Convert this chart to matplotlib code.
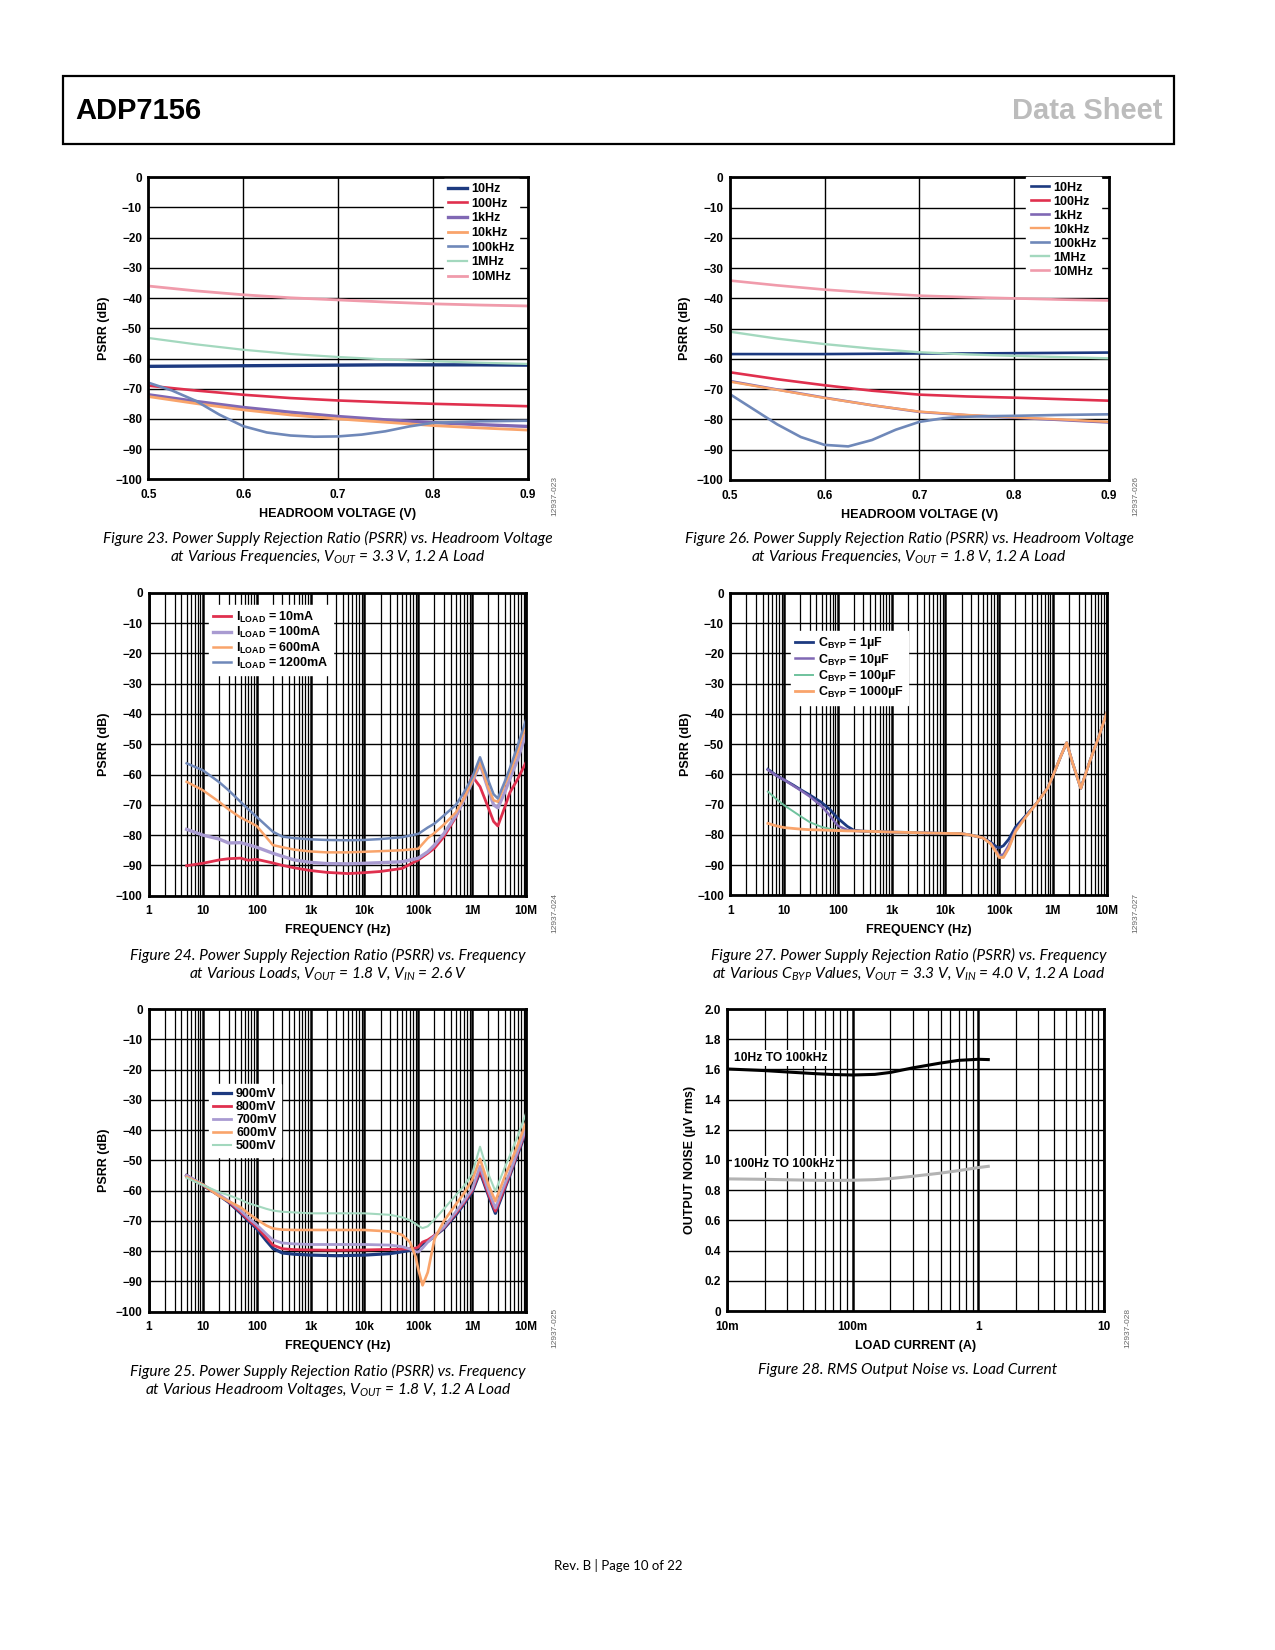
import matplotlib
matplotlib.use("Agg")
from matplotlib import pyplot as plt
from matplotlib.patches import Rectangle
from matplotlib.ticker import LogLocator, NullFormatter

W, H = 1275, 1650

plt.rcParams['font.family'] = ['Liberation Sans', 'DejaVu Sans']
plt.rcParams['font.weight'] = 'bold'
plt.rcParams['axes.labelweight'] = 'bold'
plt.rcParams['mathtext.fontset'] = 'custom'
plt.rcParams['mathtext.it'] = 'Lato:style=italic:weight=normal'
plt.rcParams['mathtext.rm'] = 'Lato:style=italic:weight=normal'
plt.rcParams['mathtext.bf'] = 'Liberation Sans:weight=bold'
plt.rcParams['axes.unicode_minus'] = True

NAVY = '#1d3a80'
RED = '#e0304e'
PURPLE = '#8068b4'
LAVENDER = '#a99bd1'
ORANGE = '#f9a46b'
STEEL = '#6f88b9'
MINT = '#a3d8be'
TEAL = '#6fc29d'
PINK = '#f09bab'

# ---- Figure 23 / 26 : PSRR vs headroom voltage
hv = [0.5, 0.55, 0.6, 0.65, 0.7, 0.75, 0.8, 0.85, 0.9]
hv_fine = [0.5, 0.525, 0.55, 0.575, 0.6, 0.625, 0.65, 0.675, 0.7, 0.725, 0.75, 0.775, 0.8, 0.85, 0.9]
freq_labels = ['10Hz', '100Hz', '1kHz', '10kHz', '100kHz', '1MHz', '10MHz']

f23_10hz = [-62.6, -62.5, -62.4, -62.3, -62.2, -62.1, -62.1, -62.1, -62.2]
f23_100hz = [-69.0, -70.6, -72.0, -73.1, -73.9, -74.5, -75.0, -75.4, -75.8]
f23_1khz = [-72.0, -74.2, -76.2, -77.8, -79.2, -80.3, -81.2, -81.9, -82.5]
f23_10khz = [-72.6, -74.9, -77.0, -78.7, -80.0, -81.1, -82.2, -83.0, -83.7]
f23_100khz = [-68.0, -70.6, -74.0, -78.6, -82.4, -84.5, -85.5, -85.9, -85.8, -85.2, -84.1, -82.5, -81.3, -80.8, -80.6]
f23_1mhz = [-53.2, -55.3, -57.1, -58.5, -59.5, -60.3, -60.9, -61.4, -61.8]
f23_10mhz = [-36.0, -37.6, -38.9, -39.9, -40.6, -41.3, -41.9, -42.3, -42.6]

f26_10hz = [-58.4, -58.4, -58.4, -58.3, -58.2, -58.2, -58.1, -58.0, -57.9]
f26_100hz = [-64.4, -66.7, -68.7, -70.5, -71.8, -72.4, -72.8, -73.3, -73.8]
f26_1khz = [-67.3, -70.1, -72.8, -75.3, -77.5, -78.6, -79.4, -80.2, -81.0]
f26_10khz = [-67.5, -70.2, -72.9, -75.3, -77.4, -78.5, -79.3, -80.0, -80.8]
f26_100khz = [-71.6, -76.6, -81.6, -85.8, -88.4, -88.9, -86.8, -83.4, -80.8, -79.6, -79.1, -78.9, -78.8, -78.5, -78.3]
f26_1mhz = [-51.0, -53.3, -55.1, -56.6, -57.8, -58.5, -59.0, -59.4, -59.8]
f26_10mhz = [-34.1, -35.7, -37.1, -38.2, -39.1, -39.6, -40.0, -40.4, -40.7]

# ---- Figure 24 : PSRR vs frequency, various loads
f24_freq = [5, 10, 20, 30, 50, 70, 100, 200, 300, 500, 1e3, 2e3, 5e3, 1e4, 2e4, 5e4, 1e5, 1.5e5, 2e5, 3e5,
            5e5, 7e5, 1e6, 1.4e6, 2e6, 2.5e6, 3e6, 4e6, 5e6, 7e6, 1e7]
f24_10ma = [-90.1, -89.3, -88.2, -87.8, -87.6, -88.3, -88.0, -89.2, -90.0, -90.8, -91.7, -92.3, -92.7, -92.4, -92.0,
            -91.0, -88.2, -86.0, -84.3, -80.5, -74.0, -68.0, -60.5, -64.0, -71.0, -75.5, -77.0, -71.0, -66.0, -61.5, -56.0]
f24_100ma = [-78.1, -80.0, -81.3, -82.6, -82.5, -83.2, -84.0, -86.0, -87.0, -88.2, -89.0, -89.4, -89.5, -89.3, -89.1,
             -88.8, -87.6, -85.5, -83.3, -79.5, -73.5, -68.5, -62.5, -56.5, -65.0, -70.0, -71.0, -66.0, -61.5, -55.0, -46.5]
f24_600ma = [-62.4, -65.2, -69.0, -71.5, -74.2, -75.5, -77.0, -83.3, -84.0, -84.8, -85.4, -85.7, -85.7, -85.5, -85.3,
             -85.0, -84.5, -81.0, -79.3, -76.5, -72.5, -68.0, -62.0, -56.0, -64.5, -68.5, -69.0, -63.5, -59.5, -52.5, -43.5]
f24_1200ma = [-56.3, -58.6, -62.5, -65.2, -69.0, -71.5, -74.0, -78.9, -80.5, -81.0, -81.4, -81.6, -81.7, -81.6, -81.3,
              -80.7, -79.6, -77.5, -76.2, -73.5, -70.0, -66.0, -61.0, -54.3, -62.0, -66.5, -67.9, -62.5, -58.0, -50.5, -42.0]

# ---- Figure 27 : PSRR vs frequency, various CBYP
f27_freq = [5, 7, 10, 15, 20, 30, 50, 70, 100, 150, 200, 300, 500, 1e3, 2e3, 5e3, 1e4, 2e4, 3e4, 5e4, 7e4, 9e4,
            1e5, 1.2e5, 1.5e5, 2e5, 3e5, 5e5, 8e5, 1e6, 1.4e6, 1.8e6, 2.3e6, 3.3e6, 5e6, 7e6, 1e7]
f27_1uf = [-58.3, -60.2, -61.8, -63.6, -65.0, -66.8, -69.3, -71.5, -74.5, -77.2, -78.5, -78.8, -78.9, -79.1, -79.2,
           -79.4, -79.5, -79.6, -80.1, -81.0, -82.5, -84.0, -84.3, -83.6, -81.5, -77.5, -74.0, -69.5, -64.5, -60.5,
           -54.0, -49.5, -56.0, -64.6, -55.0, -48.0, -39.7]
f27_10uf = [-58.5, -60.3, -61.8, -63.8, -65.2, -67.3, -70.5, -73.5, -77.0, -78.4, -78.7, -78.8, -78.9, -79.1, -79.2,
            -79.4, -79.5, -79.6, -80.1, -81.0, -82.8, -85.5, -86.8, -86.5, -83.5, -78.5, -74.3, -69.5, -64.5, -60.5,
            -54.0, -49.5, -56.0, -64.6, -55.0, -48.0, -39.7]
f27_100uf = [-65.7, -68.0, -70.2, -72.3, -73.8, -75.8, -77.4, -78.0, -78.5, -78.7, -78.7, -78.8, -78.9, -79.1, -79.2,
             -79.4, -79.5, -79.6, -80.1, -81.0, -83.0, -86.0, -87.3, -87.2, -84.5, -79.0, -74.5, -69.5, -64.5, -60.5,
             -54.0, -49.5, -56.0, -64.6, -55.0, -48.0, -39.7]
f27_1000uf = [-76.2, -77.0, -77.6, -77.9, -78.1, -78.3, -78.4, -78.5, -78.6, -78.7, -78.7, -78.8, -78.9, -79.1, -79.2,
              -79.4, -79.5, -79.6, -80.1, -81.0, -83.0, -86.0, -87.5, -87.5, -84.5, -79.0, -74.5, -69.5, -64.5, -60.5,
              -54.0, -49.5, -56.0, -64.6, -55.0, -48.0, -39.7]

# ---- Figure 25 : PSRR vs frequency, various headroom voltages
f25_freq = [5, 10, 20, 30, 50, 70, 100, 150, 200, 300, 500, 1e3, 3e3, 1e4, 3e4, 5e4, 7e4, 9e4, 1e5, 1.2e5, 1.5e5,
            2e5, 3e5, 5e5, 7e5, 1e6, 1.4e6, 2e6, 2.7e6, 4e6, 5e6, 7e6, 1e7]
f25_900 = [-55.0, -58.2, -61.6, -63.8, -67.4, -70.0, -72.6, -76.5, -79.1, -80.6, -81.0, -81.3, -81.5, -81.3, -80.8,
           -80.2, -79.7, -79.2, -78.8, -77.6, -76.8, -75.0, -72.5, -68.0, -64.5, -60.5, -53.8, -61.5, -67.5, -59.5,
           -55.0, -48.0, -40.5]
f25_800 = [-55.0, -58.2, -61.5, -63.6, -67.0, -69.6, -72.0, -75.5, -78.0, -79.2, -79.5, -79.6, -79.7, -79.6, -79.4,
           -79.3, -79.2, -79.0, -78.6, -77.0, -76.3, -74.8, -72.2, -67.5, -64.0, -60.0, -53.2, -61.0, -66.8, -59.0,
           -54.5, -47.5, -40.0]
f25_700 = [-55.0, -58.0, -61.3, -63.3, -66.5, -69.0, -71.3, -74.3, -76.3, -77.3, -77.6, -77.8, -77.8, -77.8, -78.0,
           -78.5, -79.3, -80.2, -80.3, -79.0, -77.0, -75.0, -72.0, -67.0, -63.5, -59.5, -52.0, -60.0, -65.8, -58.0,
           -54.0, -47.0, -39.5]
f25_600 = [-55.5, -58.0, -61.8, -63.5, -65.5, -67.5, -69.5, -71.5, -72.5, -72.9, -73.0, -73.0, -73.0, -73.0, -73.5,
           -74.6, -77.0, -82.0, -86.0, -91.3, -87.0, -76.0, -70.0, -64.5, -61.0, -56.5, -49.5, -58.0, -63.5, -55.5,
           -51.5, -45.0, -37.5]
f25_500 = [-55.8, -58.2, -60.5, -61.5, -63.0, -64.2, -65.0, -66.0, -66.6, -67.0, -67.2, -67.5, -67.5, -67.5, -68.0,
           -68.8, -69.8, -71.0, -71.6, -72.4, -71.8, -69.5, -66.0, -61.5, -58.5, -54.5, -45.5, -54.5, -60.2, -52.5,
           -48.5, -42.0, -34.5]

# ---- Figure 28 : RMS output noise vs load current
load_a = [0.01, 0.02, 0.03, 0.05, 0.07, 0.1, 0.15, 0.2, 0.3, 0.5, 0.7, 1.0, 1.2]
noise_10hz = [1.603, 1.592, 1.583, 1.572, 1.566, 1.563, 1.567, 1.580, 1.610, 1.642, 1.660, 1.667, 1.665]
noise_100hz = [0.875, 0.872, 0.869, 0.866, 0.865, 0.866, 0.870, 0.877, 0.892, 0.913, 0.930, 0.950, 0.958]


def px_axes(fig, left, top, right, bottom):
    return fig.add_axes([left / W, 1 - bottom / H, (right - left) / W, (bottom - top) / H])


def ftext(fig, x, y, s, **kw):
    fig.text(x / W, 1 - y / H, s, **kw)


def style_axes(ax):
    for sp in ax.spines.values():
        sp.set_linewidth(2)
    ax.set_axisbelow(True)
    ax.tick_params(which='both', length=0, labelsize=8.5)
    ax.tick_params(axis='x', pad=7)
    ax.tick_params(axis='y', pad=4.5)


def psrr_y(ax):
    ax.set_ylim(-100, 0)
    ax.set_yticks(range(-100, 1, 10))
    ax.grid(axis='y', which='major', color='black', lw=1)
    ax.set_ylabel('PSRR (dB)', fontsize=9, labelpad=4)


def log_freq_x(ax):
    ax.set_xscale('log')
    ax.set_xlim(1, 1e7)
    ax.set_xticks([1, 10, 100, 1e3, 1e4, 1e5, 1e6, 1e7])
    ax.set_xticklabels(['1', '10', '100', '1k', '10k', '100k', '1M', '10M'])
    ax.xaxis.set_minor_locator(LogLocator(base=10, subs=range(2, 10), numticks=30))
    ax.xaxis.set_minor_formatter(NullFormatter())
    ax.grid(axis='x', which='major', color='black', lw=1.8)
    ax.grid(axis='x', which='minor', color='black', lw=0.9)
    ax.set_xlabel('FREQUENCY (Hz)', fontsize=9, labelpad=5)


def headroom_x(ax):
    ax.set_xlim(0.5, 0.9)
    ax.set_xticks([0.5, 0.6, 0.7, 0.8, 0.9])
    ax.set_xticklabels(['0.5', '0.6', '0.7', '0.8', '0.9'])
    ax.grid(axis='x', which='major', color='black', lw=1)
    ax.set_xlabel('HEADROOM VOLTAGE (V)', fontsize=9, labelpad=5)


def leg(ax, loc, anchor, spacing):
    ax.legend(loc=loc, bbox_to_anchor=anchor, frameon=True, facecolor='white', edgecolor='white',
              framealpha=1, fancybox=False, borderaxespad=0, borderpad=0.35, handlelength=1.45,
              handletextpad=0.4, labelspacing=spacing, prop={'size': 9, 'weight': 'bold'})


def caption(fig, x, y, lines):
    for i, s in enumerate(lines):
        ftext(fig, x, y + i * 19, s, ha='center', va='center', fontsize=11.2,
              family='Lato', style='italic', weight='normal')


def fig_id(fig, x, y, s):
    ftext(fig, x, y, s, rotation=90, ha='center', va='center', fontsize=6,
          color='#666666', weight='normal')


fig = plt.figure(figsize=(12.75, 16.5), dpi=100)

# header
fig.add_artist(Rectangle((63 / W, 1 - 144 / H), (1174 - 63) / W, (144 - 76) / H,
                         transform=fig.transFigure, fill=False, lw=1.6, ec='black'))
ftext(fig, 75, 111, 'ADP7156', ha='left', va='center', fontsize=21, weight='bold')
ftext(fig, 1163, 111, 'Data Sheet', ha='right', va='center', fontsize=21, weight='bold', color='#bcbcbc')

# Figure 23
ax = px_axes(fig, 148.3, 177.3, 527.7, 479.3)
style_axes(ax)
psrr_y(ax)
headroom_x(ax)
ax.plot(hv, f23_10hz, color=NAVY, lw=2.4, label=freq_labels[0])
ax.plot(hv, f23_100hz, color=RED, lw=1.9, label=freq_labels[1])
ax.plot(hv, f23_1khz, color=PURPLE, lw=2.4, label=freq_labels[2])
ax.plot(hv, f23_10khz, color=ORANGE, lw=2.0, label=freq_labels[3])
ax.plot(hv_fine, f23_100khz, color=STEEL, lw=1.9, label=freq_labels[4])
ax.plot(hv, f23_1mhz, color=MINT, lw=1.6, label=freq_labels[5])
ax.plot(hv, f23_10mhz, color=PINK, lw=2.0, label=freq_labels[6])
leg(ax, 'upper right', (0.978, 0.995), 0.21)
fig_id(fig, 555, 496, '12937-023')
caption(fig, 328, 538, ['Figure 23. Power Supply Rejection Ratio (PSRR) vs. Headroom Voltage',
                        'at Various Frequencies, $V_{OUT}$ = 3.3 V, 1.2 A Load'])

# Figure 26
ax = px_axes(fig, 729.7, 177.3, 1109, 480)
style_axes(ax)
psrr_y(ax)
headroom_x(ax)
ax.plot(hv, f26_10hz, color=NAVY, lw=1.9, label=freq_labels[0])
ax.plot(hv, f26_100hz, color=RED, lw=1.9, label=freq_labels[1])
ax.plot(hv, f26_1khz, color=PURPLE, lw=1.9, label=freq_labels[2])
ax.plot(hv, f26_10khz, color=ORANGE, lw=1.7, label=freq_labels[3])
ax.plot(hv_fine, f26_100khz, color=STEEL, lw=1.9, label=freq_labels[4])
ax.plot(hv, f26_1mhz, color=MINT, lw=1.7, label=freq_labels[5])
ax.plot(hv, f26_10mhz, color=PINK, lw=1.9, label=freq_labels[6])
leg(ax, 'upper right', (0.98, 1.0), 0.16)
fig_id(fig, 1136, 496, '12937-026')
caption(fig, 909, 538, ['Figure 26. Power Supply Rejection Ratio (PSRR) vs. Headroom Voltage',
                        'at Various Frequencies, $V_{OUT}$ = 1.8 V, 1.2 A Load'])

# Figure 24
ax = px_axes(fig, 149, 592.7, 526, 895.7)
style_axes(ax)
psrr_y(ax)
log_freq_x(ax)
ax.plot(f24_freq, f24_10ma, color=RED, lw=2.0, label=r'$\mathbf{I_{LOAD}}$ = 10mA')
ax.plot(f24_freq, f24_100ma, color=LAVENDER, lw=2.4, label=r'$\mathbf{I_{LOAD}}$ = 100mA')
ax.plot(f24_freq, f24_600ma, color=ORANGE, lw=1.8, label=r'$\mathbf{I_{LOAD}}$ = 600mA')
ax.plot(f24_freq, f24_1200ma, color=STEEL, lw=1.8, label=r'$\mathbf{I_{LOAD}}$ = 1200mA')
leg(ax, 'upper left', (0.158, 0.958), 0.02)
fig_id(fig, 555, 913, '12937-024')
caption(fig, 328, 955, ['Figure 24. Power Supply Rejection Ratio (PSRR) vs. Frequency',
                        'at Various Loads, $V_{OUT}$ = 1.8 V, $V_{IN}$ = 2.6 V'])

# Figure 27
ax = px_axes(fig, 730.3, 593, 1106.7, 895.3)
style_axes(ax)
psrr_y(ax)
log_freq_x(ax)
ax.plot(f27_freq, f27_1uf, color=NAVY, lw=2.0, label=r'$\mathbf{C_{BYP}}$ = 1µF')
ax.plot(f27_freq, f27_10uf, color=PURPLE, lw=1.8, label=r'$\mathbf{C_{BYP}}$ = 10µF')
ax.plot(f27_freq, f27_100uf, color=TEAL, lw=1.4, label=r'$\mathbf{C_{BYP}}$ = 100µF')
ax.plot(f27_freq, f27_1000uf, color=ORANGE, lw=2.0, label=r'$\mathbf{C_{BYP}}$ = 1000µF')
leg(ax, 'upper left', (0.16, 0.874), 0.02)
fig_id(fig, 1136, 913, '12937-027')
caption(fig, 909, 955, ['Figure 27. Power Supply Rejection Ratio (PSRR) vs. Frequency',
                        'at Various $C_{BYP}$ Values, $V_{OUT}$ = 3.3 V, $V_{IN}$ = 4.0 V, 1.2 A Load'])

# Figure 25
ax = px_axes(fig, 149, 1009, 526, 1311.7)
style_axes(ax)
psrr_y(ax)
log_freq_x(ax)
ax.plot(f25_freq, f25_900, color=NAVY, lw=2.3, label='900mV')
ax.plot(f25_freq, f25_800, color=RED, lw=2.0, label='800mV')
ax.plot(f25_freq, f25_700, color=LAVENDER, lw=2.0, label='700mV')
ax.plot(f25_freq, f25_600, color=ORANGE, lw=1.9, label='600mV')
ax.plot(f25_freq, f25_500, color=MINT, lw=1.5, label='500mV')
leg(ax, 'upper left', (0.158, 0.752), 0.08)
fig_id(fig, 555, 1328, '12937-025')
caption(fig, 328, 1371, ['Figure 25. Power Supply Rejection Ratio (PSRR) vs. Frequency',
                         'at Various Headroom Voltages, $V_{OUT}$ = 1.8 V, 1.2 A Load'])

# Figure 28
ax = px_axes(fig, 727, 1009, 1104, 1311)
style_axes(ax)
ax.set_xscale('log')
ax.set_xlim(0.01, 10)
ax.set_xticks([0.01, 0.1, 1, 10])
ax.set_xticklabels(['10m', '100m', '1', '10'])
ax.xaxis.set_minor_locator(LogLocator(base=10, subs=range(2, 10), numticks=30))
ax.xaxis.set_minor_formatter(NullFormatter())
ax.grid(axis='x', which='major', color='black', lw=1.8)
ax.grid(axis='x', which='minor', color='black', lw=0.9)
ax.set_ylim(0, 2.0)
ax.set_yticks([0, 0.2, 0.4, 0.6, 0.8, 1.0, 1.2, 1.4, 1.6, 1.8, 2.0])
ax.set_yticklabels(['0', '0.2', '0.4', '0.6', '0.8', '1.0', '1.2', '1.4', '1.6', '1.8', '2.0'])
ax.grid(axis='y', which='major', color='black', lw=1)
ax.plot(load_a, noise_10hz, color='black', lw=2.2)
ax.plot(load_a, noise_100hz, color='#b3b3b3', lw=2.2)
ax.text(0.0113, 1.675, '10Hz TO 100kHz', fontsize=8.7, va='center', ha='left',
        bbox=dict(facecolor='white', edgecolor='none', pad=1.5))
ax.text(0.0113, 0.973, '100Hz TO 100kHz', fontsize=8.7, va='center', ha='left',
        bbox=dict(facecolor='white', edgecolor='none', pad=1.5))
ax.set_xlabel('LOAD CURRENT (A)', fontsize=9, labelpad=5)
ax.set_ylabel('OUTPUT NOISE (µV rms)', fontsize=9, labelpad=6)
fig_id(fig, 1128, 1328, '12937-028')
caption(fig, 908, 1370, ['Figure 28. RMS Output Noise vs. Load Current'])

# footer
ftext(fig, 618, 1565, 'Rev. B | Page 10 of 22', ha='center', va='center', fontsize=9.5,
      family='Lato', weight='normal')

fig.savefig('out.png', dpi=100)
